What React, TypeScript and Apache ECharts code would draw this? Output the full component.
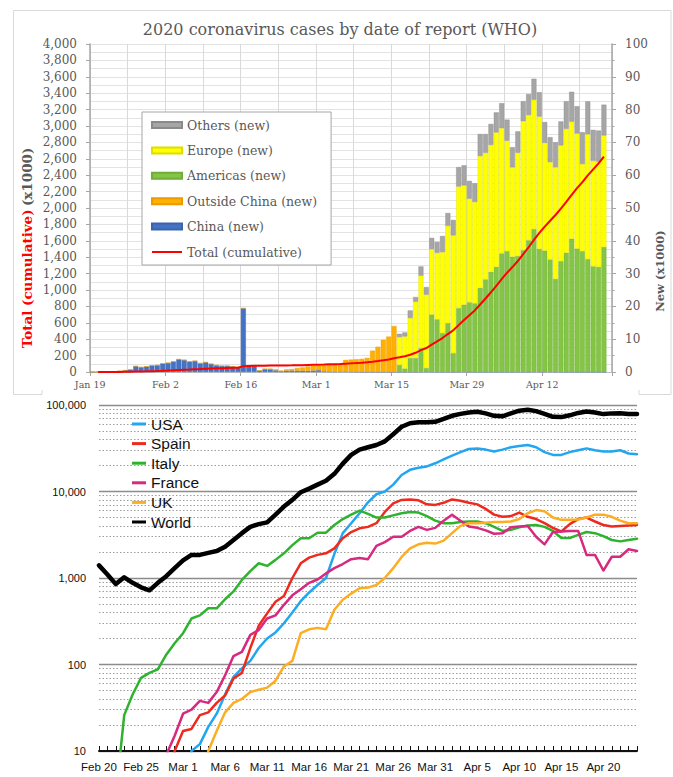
import React, { useEffect, useRef } from 'react';
import * as echarts from 'echarts';

// ---------- categories ----------
const MONTH_NAMES = ['Jan', 'Feb', 'Mar', 'Apr'];
const MONTH_LENGTHS = [31, 29, 31, 30];
function dateLabels(month: number, day: number, count: number): string[] {
  const out: string[] = [];
  let m = month;
  let d = day;
  for (let k = 0; k < count; k++) {
    out.push(`${MONTH_NAMES[m]} ${d}`);
    d++;
    if (d > MONTH_LENGTHS[m]) { d = 1; m++; }
  }
  return out;
}
const reportDates = dateLabels(0, 19, 97); // Jan 19 .. Apr 24
const countryDates = dateLabels(1, 20, 65); // Feb 20 .. Apr 24

// ---------- top chart: new cases (x1000) by report date ----------
const chinaNew = [
  0, 0, 0.05, 0.1, 0.15, 0.3, 0.5, 0.7, 1.75, 1.45,
  1.65, 1.95, 2.05, 2.55, 2.75, 3.15, 3.85, 3.65, 3.15, 3.35,
  2.65, 2.95, 2.45, 2.05, 1.85, 1.85, 1.65, 1.45, 19.4, 1.9,
  1.85, 0.4, 0.85, 0.8, 0.5, 0.25, 0.4, 0.45, 0.4, 0.4,
  0.35, 0.45, 0.55, 0.2, 0.15, 0.12, 0.14, 0.15, 0.1, 0.05,
  0.04, 0.02, 0.03, 0.02, 0.02, 0.02, 0.02, 0.04, 0.05, 0.06,
  0.05, 0.08, 0.1, 0.08, 0.05, 0.06, 0.07, 0.05, 0.06, 0.1,
  0.05, 0.04, 0.05, 0.04, 0.03, 0.05, 0.05, 0.04, 0.04, 0.06,
  0.06, 0.05, 0.1, 0.1, 0.1, 0.1, 0.06, 0.09, 0.04, 0.03,
  0.02, 0.02, 0.01, 0.01, 0.02, 0.01,
];
const outsideChinaNew = [
  0, 0, 0, 0, 0, 0, 0, 0, 0.05, 0.05,
  0.05, 0.05, 0.05, 0.05, 0.05, 0.05, 0.05, 0.05, 0.05, 0.05,
  0.05, 0.05, 0.05, 0.05, 0.05, 0.05, 0.05, 0.05, 0.1, 0.1,
  0.15, 0.1, 0.15, 0.2, 0.3, 0.15, 0.4, 0.45, 0.8, 1.0,
  1.35, 1.45, 1.35, 1.8, 2.15, 2.28, 2.36, 3.55, 3.7, 3.85,
  3.96, 4.28, 6.47, 7.68, 9.78, 10.78, 13.98,
];
// regional split starts on Mar 16 (index 57)
const REGION_START = 57;
const americasNew = [
  2.1, 1.0, 4.2, 4.2, 7.2, 1.1, 17.4, 16.0, 11.8, 14.8,
  5.7, 19.4, 20.4, 21.2, 20.9, 25.6, 28.2, 30.5, 32.0, 36.1,
  36.8, 35.1, 35.3, 37.1, 40.1, 43.5, 37.4, 36.9, 34.2, 28.3,
  33.7, 36.3, 40.6, 37.6, 36.8, 34.4, 32.2, 32.0, 38.1,
];
const europeNew = [
  8.5, 9.8, 12.2, 17.2, 22.1, 22.4, 20.0, 20.3, 24.7, 29.7,
  35.9, 37.1, 36.4, 31.6, 30.9, 40.2, 38.6, 38.7, 41.0, 38.2,
  33.7, 27.3, 31.5, 39.3, 38.2, 39.4, 40.4, 32.9, 29.7, 34.1,
  35.3, 37.8, 35.7, 35.1, 26.6, 38.1, 32.2, 32.1, 34.0,
];
const othersNew = [
  1.0, 1.2, 2.3, 1.4, 2.8, 2.3, 3.4, 3.3, 4.9, 3.9,
  4.7, 5.9, 6.1, 5.4, 5.7, 6.7, 5.7, 6.4, 6.1, 7.6,
  6.4, 6.1, 6.5, 6.1, 6.4, 6.4, 7.4, 6.3, 7.6, 7.6,
  7.3, 8.4, 9.1, 8.3, 9.7, 10.0, 9.4, 9.5, 9.4,
];
const totalCumulative = [
  null, 0.28, 0.31, 0.58, 0.85, 1.32, 2.01, 2.8, 4.59, 6.07,
  7.82, 9.83, 11.95, 14.56, 17.39, 20.63, 24.55, 28.28, 31.48, 34.89,
  37.56, 40.55, 43.1, 45.17, 47.0, 49.05, 50.58, 51.86, 71.43, 73.33,
  75.2, 75.75, 76.77, 77.79, 78.81, 79.33, 80.24, 81.11, 82.29, 83.65,
  85.4, 87.14, 88.95, 90.87, 93.09, 95.32, 98.19, 101.93, 105.59, 109.58,
  113.7, 118.32, 124.52, 132.76, 142.53, 153.52, 167.52, 179.11, 191.13, 209.84,
  234.07, 266.07, 292.14, 332.93, 372.76, 414.18, 462.68, 509.16, 571.68, 634.84,
  693.22, 750.89, 823.63, 896.45, 972.3, 1051.64, 1133.76, 1210.96, 1279.72, 1353.36,
  1436.2, 1521.25, 1610.91, 1696.59, 1773.08, 1844.86, 1914.92, 1991.56, 2074.53, 2160.21,
  2241.78, 2314.62, 2397.22, 2471.14, 2544.79, 2626.32,
];

// ---------- bottom chart: daily new cases by country (log scale) ----------
const usa = [
  null, null, null, null, null, null, null, null, null, 1,
  2, 10, 12, 19, 27, 45, 72, 90, 110, 155,
  200, 235, 300, 400, 540, 680, 830, 1000, 1900, 3300,
  4300, 5600, 7500, 9300, 10000, 12000, 15500, 17800, 18800, 19500,
  21200, 23500, 26000, 28500, 31000, 31500, 30500, 29000, 30500, 32500,
  33500, 34500, 32500, 28500, 26500, 26500, 28500, 30000, 31500, 30000,
  29000, 29000, 30000, 27500, 27000,
];
const spain = [
  1, 1, 1, 1, 1, 1, 1, 1, 2, 10,
  17, 18, 26, 28, 36, 44, 69, 80, 155, 280,
  390, 530, 620, 1000, 1480, 1720, 1850, 1930, 2200, 2880,
  3400, 3750, 3900, 4300, 5800, 7300, 8000, 8100, 7900, 7100,
  7000, 7400, 8100, 7800, 7400, 7100, 6300, 5400, 5100, 5200,
  5700, 5100, 4800, 4300, 3800, 3450, 4200, 4800, 5000, 4500,
  4100, 3950, 4000, 4050, 4100,
];
const italy = [
  1, 2, 3, 26, 45, 70, 80, 88, 130, 176,
  230, 340, 370, 446, 446, 568, 700, 950, 1200, 1480,
  1380, 1620, 1930, 2400, 2880, 2880, 3340, 3340, 4100, 4800,
  5400, 6000, 5500, 5000, 5000, 5300, 5600, 5800, 5700, 5200,
  4600, 4300, 4300, 4450, 4500, 4500, 4300, 3900, 3500, 3600,
  3850, 4050, 4100, 3900, 3500, 2900, 2900, 3150, 3400, 3300,
  3050, 2750, 2650, 2750, 2850,
];
const france = [
  1, 1, 1, 1, 1, 1, 1, 2, 9, 15,
  27, 30, 38, 36, 48, 75, 125, 140, 220, 250,
  340, 370, 490, 630, 740, 880, 960, 1130, 1300, 1450,
  1650, 1700, 1650, 2350, 2600, 3000, 3000, 3500, 3900, 3600,
  3800, 4600, 5400, 4600, 3950, 3800, 3550, 3250, 3300, 3850,
  3950, 4000, 3000, 2450, 3400, 3450, 3500, 3500, 1850, 1850,
  1220, 1760, 1760, 2150, 2050,
];
const uk = [
  1, 1, 1, 1, 1, 1, 1, 1, 1, 1,
  1, 1, 3, 10, 17, 28, 36, 40, 48, 51,
  54, 65, 95, 110, 230, 255, 265, 255, 430, 560,
  660, 760, 775, 830, 1000, 1300, 1750, 2200, 2450, 2550,
  2500, 2700, 3300, 4000, 4300, 4300, 4350, 4450, 4450, 4500,
  4800, 5600, 6100, 5900, 5000, 4700, 4700, 4750, 5000, 5400,
  5400, 5100, 4600, 4300, 4300,
];
const world = [
  1400, 1100, 850, 1020, 880, 780, 720, 880, 1050, 1300,
  1600, 1850, 1850, 1950, 2050, 2300, 2750, 3300, 3900, 4200,
  4400, 5400, 6700, 8000, 9800, 10800, 12000, 13300, 16000, 21000,
  26500, 30500, 32500, 34500, 38000, 46000, 56000, 61500, 63000, 63000,
  64000, 69000, 75000, 79000, 82000, 83500, 80000, 75000, 74000, 80000,
  86000, 88000, 85000, 79000, 73000, 72500, 76000, 81000, 84000, 82000,
  78500, 80000, 80500, 78500, 78500,
];

const SERIF = 'DejaVu Serif';
const SANS = 'Liberation Sans';
const GRAY = '#595959';

function padRegion(arr: number[]): (number | null)[] {
  return [...new Array(REGION_START).fill(null), ...arr];
}
const fmt = (v: number) => v.toLocaleString('en-US');

function buildOption(): any {
  const barBase = {
    type: 'bar',
    xAxisIndex: 0,
    yAxisIndex: 1,
    stack: 'new',
    barCategoryGap: '8%',
    z: 2,
  };
  const countryLine = (name: string, data: (number | null)[], color: string, width: number) => ({
    name,
    type: 'line',
    xAxisIndex: 1,
    yAxisIndex: 2,
    data,
    symbol: 'none',
    showSymbol: false,
    clip: true,
    lineStyle: { color, width, join: 'round', cap: 'round' },
    itemStyle: { color },
    z: 3,
  });

  return {
    animation: false,
    backgroundColor: '#ffffff',
    grid: [
      { left: 90, top: 44, width: 522, height: 328, containLabel: false },
      { left: 99, top: 405, width: 538, height: 346, containLabel: false },
    ],
    legend: [
      {
        orient: 'vertical',
        left: 142,
        top: 112,
        padding: [6, 14, 6, 9],
        itemGap: 11.4,
        itemWidth: 30,
        itemHeight: 6,
        selectedMode: false,
        backgroundColor: '#ffffff',
        borderColor: '#a6a6a6',
        borderWidth: 1,
        textStyle: { fontFamily: SERIF, fontSize: 12.5, color: GRAY, lineHeight: 14 },
        data: [
          { name: 'Others (new)', icon: 'rect' },
          { name: 'Europe (new)', icon: 'rect' },
          { name: 'Americas (new)', icon: 'rect' },
          { name: 'Outside China (new)', icon: 'rect' },
          { name: 'China (new)', icon: 'rect' },
          { name: 'Total (cumulative)', itemStyle: { opacity: 0 } },
        ],
      },
      {
        orient: 'vertical',
        left: 127,
        top: 411,
        itemGap: 3.6,
        itemWidth: 14,
        itemHeight: 3,
        icon: 'rect',
        selectedMode: false,
        textStyle: { fontFamily: SANS, fontSize: 15.5, color: '#111111', lineHeight: 16 },
        data: ['USA', 'Spain', 'Italy', 'France', 'UK', 'World'],
      },
    ],
    xAxis: [
      {
        type: 'category',
        gridIndex: 0,
        data: reportDates,
        boundaryGap: true,
        axisLine: { show: true, lineStyle: { color: '#bfbfbf', width: 1 } },
        axisTick: { show: true, interval: 13, length: 4, lineStyle: { color: '#a6a6a6' } },
        axisLabel: {
          interval: 13,
          fontFamily: SERIF,
          fontSize: 9.5,
          color: GRAY,
          margin: 7,
          padding: [0, 5, 0, 0],
        },
        splitLine: { show: true, interval: 6, lineStyle: { color: '#d9d9d9', width: 1 } },
      },
      {
        type: 'category',
        gridIndex: 1,
        data: countryDates,
        boundaryGap: false,
        axisLine: { show: true, lineStyle: { color: '#111111', width: 2 } },
        axisTick: { show: true, inside: true, interval: 0, length: 5, lineStyle: { color: '#111111', width: 1 } },
        axisLabel: { interval: 4, fontFamily: SANS, fontSize: 11.5, color: '#111111', margin: 10 },
        splitLine: { show: false },
      },
    ],
    yAxis: [
      {
        type: 'value',
        gridIndex: 0,
        position: 'left',
        min: 0,
        max: 4000,
        interval: 200,
        axisLine: { show: true, lineStyle: { color: '#a6a6a6', width: 1.5 } },
        axisTick: { show: true, length: 4, lineStyle: { color: '#a6a6a6' } },
        axisLabel: { formatter: fmt, fontFamily: SERIF, fontSize: 12, color: GRAY, margin: 13 },
        splitLine: { show: true, lineStyle: { color: '#e3e3e3', width: 1 } },
        minorTick: { show: false, splitNumber: 2 },
        minorSplitLine: { show: true, lineStyle: { color: '#e3e3e3', width: 1 } },
      },
      {
        type: 'value',
        gridIndex: 0,
        position: 'right',
        min: 0,
        max: 100,
        interval: 10,
        axisLine: { show: true, lineStyle: { color: '#a6a6a6', width: 1.5 } },
        axisTick: { show: true, length: 4, lineStyle: { color: '#a6a6a6' } },
        minorTick: { show: true, splitNumber: 2, length: 2.5, lineStyle: { color: '#a6a6a6' } },
        axisLabel: { fontFamily: SERIF, fontSize: 12, color: GRAY, margin: 13 },
        splitLine: { show: false },
      },
      {
        type: 'log',
        logBase: 10,
        gridIndex: 1,
        min: 10,
        max: 100000,
        axisLine: { show: false },
        axisTick: { show: false },
        axisLabel: { formatter: fmt, fontFamily: SANS, fontSize: 11, color: '#111111', margin: 13 },
        splitLine: { show: true, lineStyle: { color: '#8c8c8c', width: 1.4 } },
        minorTick: { show: false, splitNumber: 9 },
        minorSplitLine: { show: true, lineStyle: { color: '#9e9e9e', width: 1.2, type: [1.5, 2] } },
      },
    ],
    graphic: [
      {
        type: 'polyline',
        z: 0,
        shape: {
          points: [[42, 390], [42, 394.5], [13.5, 394.5], [13.5, 10.5], [671, 10.5], [671, 394.5], [639, 394.5], [639, 390]],
        },
        style: { stroke: '#d9d9d9', lineWidth: 1, fill: null },
      },
      {
        type: 'text',
        x: 340,
        y: 29,
        style: {
          text: '2020 coronavirus cases by date of report (WHO)',
          fill: GRAY,
          fontFamily: SERIF,
          fontSize: 16,
          align: 'center',
          verticalAlign: 'middle',
        },
      },
      {
        type: 'text',
        x: 27,
        y: 248,
        rotation: Math.PI / 2,
        style: {
          text: '{r|Total (cumulative)} {g|(x1000)}',
          align: 'center',
          verticalAlign: 'middle',
          rich: {
            r: { fill: '#ff0000', fontFamily: SERIF, fontSize: 13.5, fontWeight: 'bold' },
            g: { fill: GRAY, fontFamily: SERIF, fontSize: 13.5, fontWeight: 'bold' },
          },
        },
      },
      {
        type: 'text',
        x: 660,
        y: 271,
        rotation: Math.PI / 2,
        style: {
          text: 'New (x1000)',
          fill: GRAY,
          fontFamily: SERIF,
          fontSize: 11.5,
          fontWeight: 'bold',
          align: 'center',
          verticalAlign: 'middle',
        },
      },
    ],
    series: [
      { ...barBase, name: 'China (new)', data: chinaNew, itemStyle: { color: '#4472c4', borderColor: '#3b64ad', borderWidth: 0.4 } },
      { ...barBase, name: 'Outside China (new)', data: outsideChinaNew, itemStyle: { color: '#ffb000', borderColor: '#e89c00', borderWidth: 0.4 } },
      { ...barBase, name: 'Americas (new)', data: padRegion(americasNew), itemStyle: { color: '#84c545', borderColor: '#70ad39', borderWidth: 0.4 } },
      { ...barBase, name: 'Europe (new)', data: padRegion(europeNew), itemStyle: { color: '#ffff00', borderColor: '#dede00', borderWidth: 0.4 } },
      { ...barBase, name: 'Others (new)', data: padRegion(othersNew), itemStyle: { color: '#a6a6a6', borderColor: '#8a8a8a', borderWidth: 0.4 } },
      {
        name: 'Total (cumulative)',
        type: 'line',
        xAxisIndex: 0,
        yAxisIndex: 0,
        data: totalCumulative,
        symbol: 'none',
        showSymbol: false,
        lineStyle: { color: '#ff0000', width: 2 },
        itemStyle: { color: '#ff0000' },
        z: 5,
      },
      countryLine('USA', usa, '#22a6f2', 2.5),
      countryLine('Spain', spain, '#ee2a1e', 2.5),
      countryLine('Italy', italy, '#2eb32e', 2.5),
      countryLine('France', france, '#d6297f', 2.5),
      countryLine('UK', uk, '#fdad22', 2.5),
      countryLine('World', world, '#000000', 4.5),
    ],
  };
}

export default function App() {
  const ref = useRef<HTMLDivElement>(null);
  useEffect(() => {
    if (!ref.current) return;
    const chart = echarts.init(ref.current, null, { renderer: 'svg' });
    chart.setOption(buildOption());
    return () => chart.dispose();
  }, []);
  return (
    <div
      ref={ref}
      style={{ position: 'absolute', left: 0, top: 0, width: 673, height: 777, background: '#ffffff' }}
    />
  );
}
